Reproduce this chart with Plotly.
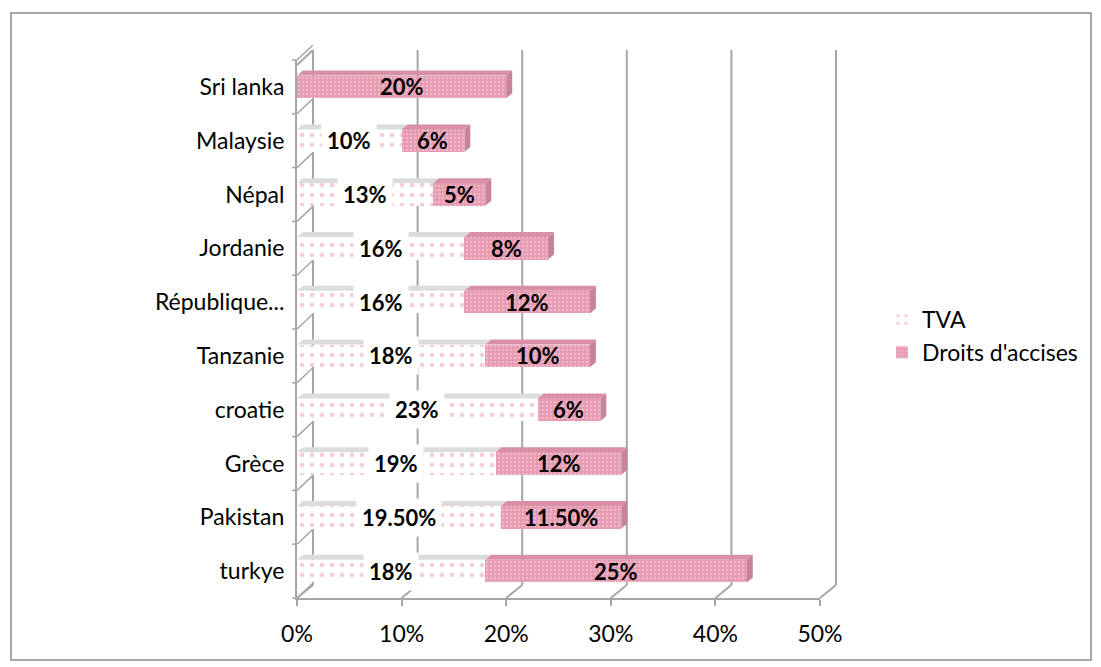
import plotly.graph_objects as go

countries = ['turkye', 'Pakistan', 'Grèce', 'croatie', 'Tanzanie',
             'République...', 'Jordanie', 'Népal', 'Malaysie', 'Sri lanka']
tva = [18, 19.5, 19, 23, 18, 16, 16, 13, 10, 0]
droits = [25, 11.5, 12, 6, 10, 12, 8, 5, 6, 20]
tva_labels = ['18%', '19.50%', '19%', '23%', '18%', '16%', '16%', '13%', '10%', '']
droits_labels = ['25%', '11.50%', '12%', '6%', '10%', '12%', '8%', '5%', '6%', '20%']
x_ticks = [0, 10, 20, 30, 40, 50]

PINK = '#e59ab0'
GRID = '#a6a6a6'
FONT = 'Lato'

# page body has an 8px margin, so reference pixels are shifted by it
O = 8
# plot area in pixels (front plane)
L, R, T, B = 297 - O, 820 - O, 60 - O, 598 - O
W, H = 1101, 667
# back wall offset in pixels
DX, DY = 16, 15

ypos = list(range(len(countries)))
bar_w = 0.42

fig = go.Figure()
fig.add_trace(go.Bar(
    y=ypos, x=tva, orientation='h', name='TVA', width=bar_w,
    marker=dict(color='white', line_width=0,
                pattern=dict(shape='.', fgcolor='#ec9ab4', bgcolor='white', size=10, solidity=0.16)),
    hoverinfo='skip'
))
fig.add_trace(go.Bar(
    y=ypos, x=droits, orientation='h', name="Droits d'accises", width=bar_w,
    marker=dict(color=PINK, line_width=0,
                pattern=dict(shape='.', fgcolor='#f6d5df', bgcolor=PINK, size=4, solidity=0.35)),
    hoverinfo='skip'
))

def px_to_paper_x(px):
    return (px - L) / (R - L)

def px_to_paper_y(py):
    return (B - py) / (B - T)

shapes = []
# 3D faces for each bar (computed from the data)
ddx = 6 / (R - L) * 50
ddy = 5 / (B - T) * 10
for i in ypos:
    segs = [(0, tva[i], '#dcdcdc'), (tva[i], tva[i] + droits[i], '#d990a6')]
    for x0, x1, top in segs:
        if x1 <= x0:
            continue
        yt = i + bar_w / 2
        shapes.append(dict(type='path', xref='x', yref='y', line_width=0, fillcolor=top, layer='above',
                           path=f'M{x0},{yt} L{x1},{yt} L{x1 + ddx},{yt + ddy} L{x0 + ddx},{yt + ddy} Z'))
    xe = tva[i] + droits[i]
    yb = i - bar_w / 2
    shapes.append(dict(type='path', xref='x', yref='y', line_width=0, fillcolor='#c7839a', layer='above',
                       path=f'M{xe},{yb} L{xe},{yb + bar_w} L{xe + ddx},{yb + bar_w + ddy} L{xe + ddx},{yb + ddy} Z'))

# back wall gridlines and floor diagonals
back_top, back_bot = px_to_paper_y(50 - O), px_to_paper_y(585 - O)
for v in x_ticks:
    fx = v / 50
    bx = fx + px_to_paper_x(L + DX)
    shapes.append(dict(type='line', xref='paper', yref='paper', x0=bx, x1=bx, y0=back_bot, y1=back_top,
                       line=dict(color=GRID, width=2), layer='below'))
    shapes.append(dict(type='line', xref='paper', yref='paper', x0=fx, x1=bx, y0=0, y1=back_bot,
                       line=dict(color=GRID, width=2), layer='below'))
# left wall
shapes.append(dict(type='line', xref='paper', yref='paper', x0=0, x1=px_to_paper_x(L + DX),
                   y0=px_to_paper_y(65 - O), y1=back_top, line=dict(color=GRID, width=2)))
for i in range(len(countries) + 1):
    yb = i / len(countries)
    shapes.append(dict(type='line', xref='paper', yref='paper', x0=0, x1=px_to_paper_x(L + DX),
                       y0=yb, y1=yb + DY / (B - T), line=dict(color=GRID, width=1.5), layer='below'))
    shapes.append(dict(type='line', xref='paper', yref='paper', x0=px_to_paper_x(L - 5), x1=0,
                       y0=yb, y1=yb, line=dict(color=GRID, width=1.5), layer='below'))
# outer frame
shapes.append(dict(type='rect', xref='paper', yref='paper',
                   x0=px_to_paper_x(11 - O), x1=px_to_paper_x(1091 - O),
                   y0=px_to_paper_y(660 - O), y1=px_to_paper_y(13 - O),
                   line=dict(color='#8c8c8c', width=1.5), fillcolor='rgba(0,0,0,0)'))

annotations = []
for i in ypos:
    if tva_labels[i]:
        annotations.append(dict(x=tva[i] / 2, y=i, text=f'<b>{tva_labels[i]}</b>', showarrow=False,
                                bgcolor='white', borderpad=5,
                                font=dict(family=FONT, size=22, color='black')))
    annotations.append(dict(x=tva[i] + droits[i] / 2, y=i, text=f'<b>{droits_labels[i]}</b>', showarrow=False,
                            font=dict(family=FONT, size=22, color='black')))

fig.update_layout(
    barmode='stack',
    width=W, height=H,
    margin=dict(l=L, r=W - R, t=T, b=H - B),
    paper_bgcolor='white', plot_bgcolor='white',
    font=dict(family=FONT, size=23, color='black'),
    shapes=shapes,
    annotations=annotations,
    showlegend=True,
    legend=dict(x=px_to_paper_x(882 - O), y=px_to_paper_y(336 - O), xanchor='left', yanchor='middle',
                traceorder='normal', font=dict(family=FONT, size=23), tracegroupgap=0, itemwidth=30),
    xaxis=dict(range=[0, 50], tickvals=x_ticks, ticktext=[f'{v}%' for v in x_ticks],
               showgrid=False, zeroline=False, showline=True, linecolor=GRID, linewidth=2,
               ticks='outside', ticklen=6, tickcolor=GRID, tickwidth=2, ticklabelstandoff=8),
    yaxis=dict(range=[-0.5, 9.5], tickvals=ypos, ticktext=countries,
               showgrid=False, zeroline=False, showline=True, linecolor=GRID, linewidth=2,
               ticks='', ticklabelstandoff=6),
)

fig.write_html('out.html')
